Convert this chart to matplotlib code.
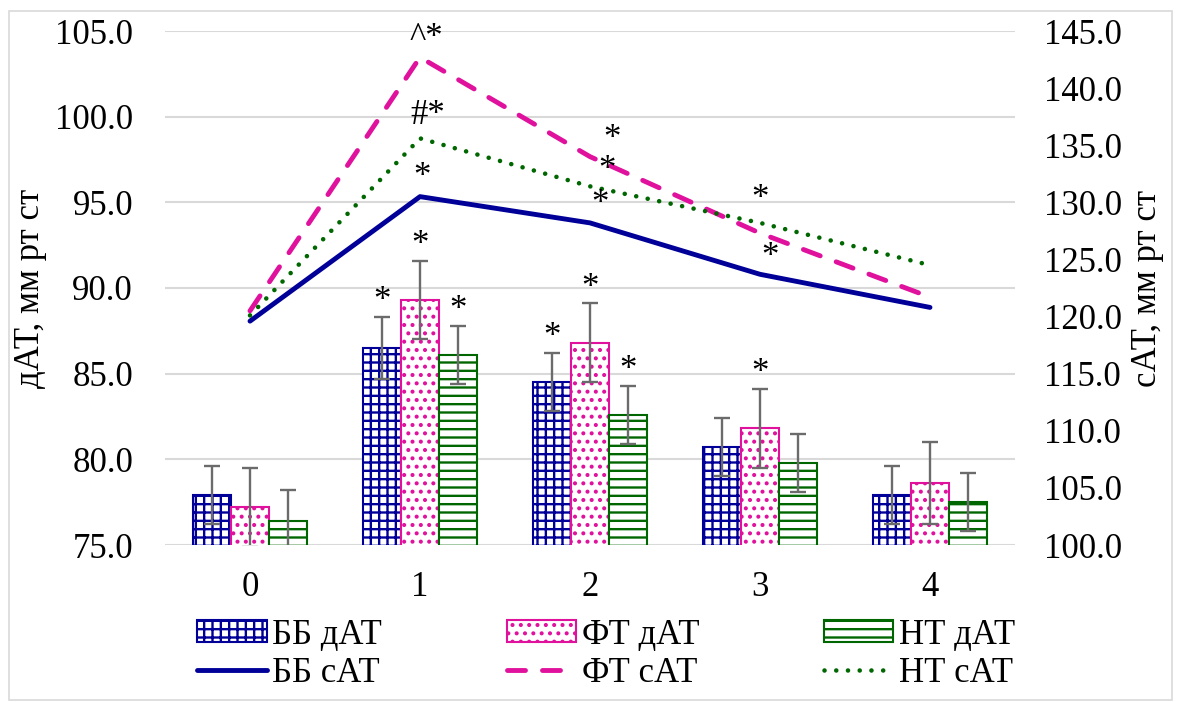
import numpy as np
import matplotlib
matplotlib.use('Agg')
import matplotlib.pyplot as plt
from matplotlib.patches import Rectangle

plt.rcParams['font.family'] = ['Liberation Serif', 'DejaVu Serif']
plt.rcParams['font.size'] = 25
plt.rcParams['hatch.linewidth'] = 1.7

# данные
x = [0, 1, 2, 3, 4]
bb_dat = [77.9, 86.5, 84.5, 80.7, 77.9]
ft_dat = [77.2, 89.3, 86.8, 81.8, 78.6]
nt_dat = [76.4, 86.1, 82.6, 79.8, 77.5]
bb_err = [1.7, 1.8, 1.7, 1.7, 1.7]
ft_err = [2.3, 2.3, 2.3, 2.3, 2.4]
nt_err = [1.8, 1.7, 1.7, 1.7, 1.7]

bb_sat = [119.6, 130.5, 128.2, 123.7, 120.8]
ft_sat = [120.5, 142.7, 134.0, 127.3, 121.7]
nt_sat = [120.1, 135.6, 131.4, 128.2, 124.5]

# метки значимости: (серия, точка, текст, сдвиг x px, сдвиг y px)
bar_marks = [('bb', 1, '*'), ('ft', 1, '*'), ('nt', 1, '*'),
             ('bb', 2, '*'), ('ft', 2, '*'), ('nt', 2, '*'),
             ('ft', 3, '*')]
line_marks = [('bb', 1, '*', 2, 14), ('bb', 2, '*', 10, 13), ('bb', 3, '*', 10, 11),
              ('ft', 1, '^*', 6, 13), ('ft', 2, '*', 22, 12), ('ft', 3, '*', 0, 28),
              ('nt', 1, '#*', 8, 17), ('nt', 2, '*', 17, 10)]

c_bb = '#000099'
c_ft = '#E0119D'
c_nt = '#006600'
c_err = '#6b6b6b'

fig = plt.figure(figsize=(11.77, 7.02), dpi=100)
ax = fig.add_axes([165/1177, 1-545/702, 850/1177, 514/702])
fig.patches.append(Rectangle((9/1177, 2/702), 1163/1177, 689/702, transform=fig.transFigure,
                             fill=False, edgecolor='#d9d9d9', lw=1.2))

w = 0.225
xs = np.array(x)
ekw = dict(ecolor=c_err, elinewidth=1.7, capsize=6, capthick=1.7)
ax.bar(xs - w, bb_dat, w, yerr=bb_err, color='white', edgecolor=c_bb, hatch='++', lw=1.5,
       error_kw=ekw, label='ББ дАТ')
ax.bar(xs, ft_dat, w, yerr=ft_err, color='white', edgecolor=c_ft, hatch='..', lw=1.5,
       error_kw=ekw, label='ФТ дАТ')
ax.bar(xs + w, nt_dat, w, yerr=nt_err, color='white', edgecolor=c_nt, hatch='--', lw=1.5,
       error_kw=ekw, label='НТ дАТ')

ax.set_ylim(75, 105)
ax.set_yticks(np.arange(75, 105.1, 5))
ax.set_yticklabels([f'{v:.1f}' for v in np.arange(75, 105.1, 5)])
ax.set_xlim(-0.5, 4.5)
ax.set_xticks(x)
ax.grid(axis='y', color='#d9d9d9', lw=1.5)
ax.set_axisbelow(True)
for s in ax.spines.values():
    s.set_visible(False)
ax.tick_params(axis='y', length=0, pad=23)
ax.tick_params(axis='x', length=0, pad=19)
ax.set_ylabel('дАТ, мм рт ст', labelpad=6)

bar_vals = {'bb': (bb_dat, bb_err, -w), 'ft': (ft_dat, ft_err, 0), 'nt': (nt_dat, nt_err, w)}
for s, i, t in bar_marks:
    v, e, off = bar_vals[s]
    ax.annotate(t, (x[i] + off, v[i] + e[i]), xytext=(0, 11), textcoords='offset points',
                ha='center', va='center', fontsize=25)

ax2 = ax.twinx()
ax2.plot(x, bb_sat, color=c_bb, lw=3.5, label='ББ сАТ', solid_capstyle='round')
ax2.plot(x, ft_sat, color=c_ft, lw=3.5, linestyle=(0, (3.7, 3.5)), dash_capstyle='round',
         label='ФТ сАТ')
ax2.plot(x, nt_sat, color=c_nt, lw=3.3, linestyle=(0, (0.01, 2.55)), dash_capstyle='round',
         label='НТ сАТ')
ax2.set_ylim(100, 145)
ax2.set_yticks(np.arange(100, 145.1, 5))
ax2.set_yticklabels([f'{v:.1f}' for v in np.arange(100, 145.1, 5)])
for s in ax2.spines.values():
    s.set_visible(False)
ax2.tick_params(axis='y', length=0, pad=21)
ax2.set_ylabel('сАТ, мм рт ст', labelpad=6)

line_vals = {'bb': bb_sat, 'ft': ft_sat, 'nt': nt_sat}
for s, i, t, dx, dy in line_marks:
    ax2.annotate(t, (x[i], line_vals[s][i]), xytext=(dx * 0.72, dy * 0.72 + 4),
                 textcoords='offset points', ha='center', va='center', fontsize=25)

h1, l1 = ax.get_legend_handles_labels()
h2, l2 = ax2.get_legend_handles_labels()
handles = [h1[0], h2[0], h1[1], h2[1], h1[2], h2[2]]
labels = [l1[0], l2[0], l1[1], l2[1], l1[2], l2[2]]
fig.legend(handles, labels, ncol=3, loc='center', bbox_to_anchor=(0.515, 0.068),
           frameon=False, fontsize=25, handlelength=2.0, handleheight=0.6,
           handletextpad=0.15, columnspacing=3.6, labelspacing=0.15, borderaxespad=0)

fig.savefig('out.png', dpi=100)
